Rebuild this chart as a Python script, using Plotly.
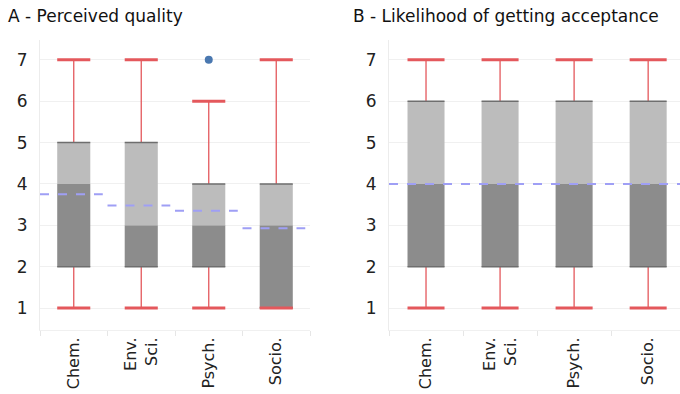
import plotly.graph_objects as go

categories = ["Chem.", "Env.<br>   Sci.", "Psych.", "Socio."]

# Panel A - Perceived quality
a_min = [1, 1, 1, 1]
a_q1 = [2, 2, 2, 1]
a_med = [4, 3, 3, 3]
a_q3 = [5, 5, 4, 4]
a_max = [7, 7, 6, 7]
a_mean = [3.75, 3.48, 3.35, 2.93]
a_out_x = [2]
a_out_y = [7]

# Panel B - Likelihood of getting acceptance
b_min = [1, 1, 1, 1]
b_q1 = [2, 2, 2, 2]
b_med = [4, 4, 4, 4]
b_q3 = [6, 6, 6, 6]
b_max = [7, 7, 7, 7]
b_mean = [4, 4, 4, 4]

DARK = "#8c8c8c"
LIGHT = "#bcbcbc"
EDGE = "#6e6e6e"
RED = "#e4585c"
MEAN = "#9f9ff5"
FONT = "DejaVu Sans"

fig = go.Figure()
W = 0.49


def seg(xs, ys_, w):
    X, Y = [], []
    for x, y in zip(xs, ys_):
        X += [x - w / 2, x + w / 2, None]
        Y += [y, y, None]
    return X, Y


def add_panel(xa, ya, mn, q1, med, q3, mx, w):
    idx = list(range(len(categories)))
    X, Y = [], []
    for i in idx:
        if q3[i] != mx[i]:
            X += [i, i, None]; Y += [q3[i], mx[i], None]
        if q1[i] != mn[i]:
            X += [i, i, None]; Y += [q1[i], mn[i], None]
    fig.add_trace(go.Scatter(x=X, y=Y, mode="lines", line=dict(color=RED, width=1.3),
                             xaxis=xa, yaxis=ya, showlegend=False, hoverinfo="skip"))
    fig.add_trace(go.Bar(x=idx, base=q1, y=[m - a for m, a in zip(med, q1)], width=w,
                         marker=dict(color=DARK, line=dict(width=0)), xaxis=xa, yaxis=ya,
                         showlegend=False))
    fig.add_trace(go.Bar(x=idx, base=med, y=[b - m for b, m in zip(q3, med)], width=w,
                         marker=dict(color=LIGHT, line=dict(width=0)), xaxis=xa, yaxis=ya,
                         showlegend=False))
    ex, ey = seg(idx + idx, q1 + q3, w)
    fig.add_trace(go.Scatter(x=ex, y=ey, mode="lines", line=dict(color=EDGE, width=1.5),
                             xaxis=xa, yaxis=ya, showlegend=False, hoverinfo="skip"))
    cx, cy = seg(idx + idx, mn + mx, w)
    fig.add_trace(go.Scatter(x=cx, y=cy, mode="lines", line=dict(color=RED, width=3),
                             xaxis=xa, yaxis=ya, showlegend=False, hoverinfo="skip"))


add_panel("x", "y", a_min, a_q1, a_med, a_q3, a_max, W)
add_panel("x2", "y2", b_min, b_q1, b_med, b_q3, b_max, 0.5)

fig.add_trace(go.Scatter(x=a_out_x, y=a_out_y, mode="markers",
                         marker=dict(color="#4a78b0", size=8), xaxis="x", yaxis="y",
                         showlegend=False))

mx_, my_ = [], []
for i, m in enumerate(a_mean):
    mx_ += [i - 0.5, i + 0.43, None]
    my_ += [m, m, None]
fig.add_trace(go.Scatter(x=mx_, y=my_, mode="lines", line=dict(color=MEAN, width=2, dash="dash"),
                         xaxis="x", yaxis="y", showlegend=False, hoverinfo="skip"))
fig.add_trace(go.Scatter(x=[-0.5, 3.6], y=[b_mean[0], b_mean[-1]], mode="lines",
                         line=dict(color=MEAN, width=2, dash="dash"),
                         xaxis="x2", yaxis="y2", showlegend=False, hoverinfo="skip"))

xcommon = dict(tickvals=list(range(len(categories))), ticktext=categories, tickangle=-90,
               ticks="", showgrid=False, zeroline=False, showline=True, linecolor="#f0f0f0",
               tickfont=dict(family=FONT, size=16, color="#222"),
               minor=dict(tick0=-0.5, dtick=1, ticks="outside", ticklen=5, tickcolor="#e6e6e6",
                          showgrid=False))
ycommon = dict(range=[0.47, 7.48], tickvals=[1, 2, 3, 4, 5, 6, 7], showgrid=True,
               gridcolor="#f0f0f0", zeroline=False, showline=True, linecolor="#ececec",
               ticks="", tickfont=dict(family=FONT, size=17, color="#222"), ticklabelstandoff=8)

fig.update_layout(
    width=680, height=394, margin=dict(l=0, r=0, t=0, b=0),
    paper_bgcolor="white", plot_bgcolor="white", barmode="overlay",
    xaxis=dict(domain=[40 / 680, 310 / 680], range=[-0.5, 3.5], anchor="y", **xcommon),
    yaxis=dict(domain=[1 - 330 / 394, 1 - 40 / 394], anchor="x", **ycommon),
    xaxis2=dict(domain=[389 / 680, 1.0], range=[-0.5, 3.43], anchor="y2", **xcommon),
    yaxis2=dict(domain=[1 - 330 / 394, 1 - 40 / 394], anchor="x2", **ycommon),
    annotations=[
        dict(text="A - Perceived quality", x=6 / 680, y=1 - 16 / 394, xref="paper", yref="paper",
             xanchor="left", yanchor="middle", showarrow=False,
             font=dict(family=FONT, size=17, color="#111")),
        dict(text="B - Likelihood of getting acceptance", x=351 / 680, y=1 - 16 / 394,
             xref="paper", yref="paper", xanchor="left", yanchor="middle", showarrow=False,
             font=dict(family=FONT, size=17, color="#111")),
    ],
)

fig.write_html("out.html")
